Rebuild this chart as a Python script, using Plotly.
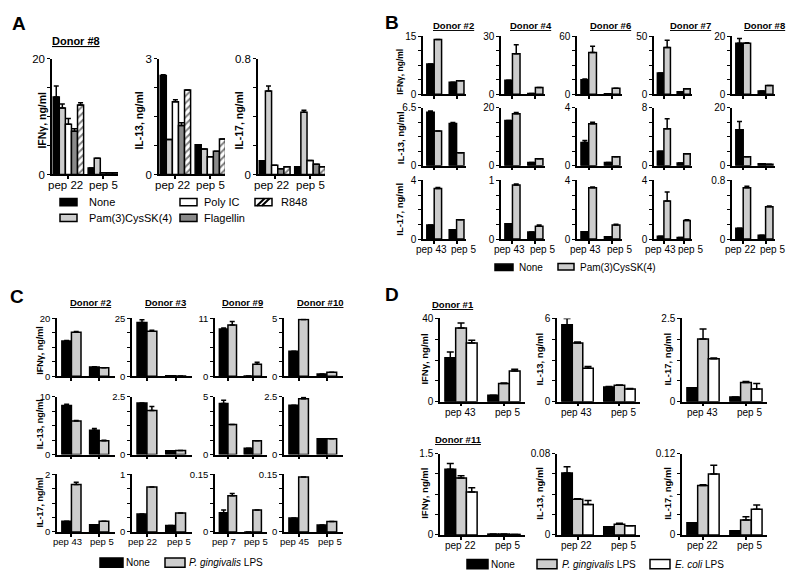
import plotly.graph_objects as go

W, H = 800, 585
FONT = "Arial, Liberation Sans, sans-serif"

# ---------------- Panel A (Donor #8) ----------------
A_CATS = ["pep 22", "pep 5"]
A_STIMS = ["None", "Pam(3)CysSK(4)", "Poly IC", "Flagellin", "R848"]
A_YMAX = [20, 3, 0.8]
A_IFNG = [[13.4, 1.1], [11.5, 2.8], [8.7, 0.3], [7.5, 0.3], [12.0, 0.3]]
A_IFNG_ERR = [[1.9, 0], [0.7, 0], [1.0, 0], [0.4, 0], [0.4, 0]]
A_IL13 = [[2.57, 0.77], [0.91, 0.66], [1.89, 0.46], [1.27, 0.60], [2.19, 0.92]]
A_IL13_ERR = [[0.02, 0], [0, 0], [0.05, 0], [0.07, 0], [0, 0]]
A_IL17 = [[0.095, 0.054], [0.578, 0.43], [0.063, 0.097], [0.04, 0.07], [0.054, 0.054]]
A_IL17_ERR = [[0, 0], [0.035, 0.015], [0, 0], [0, 0], [0, 0]]

# ---------------- Panel B ----------------
B_DONORS = ["Donor #2", "Donor #4", "Donor #6", "Donor #7", "Donor #8"]
B_PEPS = [["pep 43", "pep 5"], ["pep 43", "pep 5"], ["pep 43", "pep 5"],
          ["pep 43", "pep 5"], ["pep 22", "pep 5"]]
B_STIMS = ["None", "Pam(3)CysSK(4)"]
B_YMAX_IFNG = [15, 30, 60, 50, 20]
B_YMAX_IL13 = [6.5, 20, 4, 8, 20]
B_YMAX_IL17 = [4, 1, 4, 4, 0.8]
B_IFNG_NONE = [[7.8, 3.1], [7.2, 0.3], [15.0, 0.4], [18.2, 2.0], [17.6, 1.1]]
B_IFNG_PAM = [[14.2, 3.45], [21.0, 3.4], [43.3, 6.0], [40.4, 4.6], [17.6, 3.0]]
B_IFNG_NONE_ERR = [[0, 0], [0, 0], [0.8, 0], [0, 0], [1.7, 0]]
B_IFNG_PAM_ERR = [[0, 0], [4.6, 0], [6.5, 0], [6.3, 0], [0.2, 0]]
B_IL13_NONE = [[6.0, 4.75], [15.6, 1.1], [1.6, 0.22], [2.0, 0.36], [12.4, 0.67]]
B_IL13_PAM = [[3.9, 1.46], [18.0, 2.4], [2.9, 0.62], [5.1, 1.64], [3.1, 0.45]]
B_IL13_NONE_ERR = [[0.15, 0.1], [0, 0], [0.15, 0], [0, 0], [2.9, 0]]
B_IL13_PAM_ERR = [[0, 0], [0.4, 0], [0.1, 0], [1.4, 0], [0, 0]]
B_IL17_NONE = [[0.96, 0.64], [0.26, 0.12], [0.51, 0.16], [0.2, 0.11], [0.147, 0.053]]
B_IL17_PAM = [[3.44, 1.31], [0.92, 0.22], [3.49, 0.96], [2.6, 1.27], [0.70, 0.44]]
B_IL17_NONE_ERR = [[0, 0], [0, 0], [0, 0], [0, 0], [0, 0]]
B_IL17_PAM_ERR = [[0.08, 0], [0.02, 0.02], [0.05, 0.05], [0.6, 0.05], [0.02, 0.01]]

# ---------------- Panel C ----------------
C_DONORS = ["Donor #2", "Donor #3", "Donor #9", "Donor #10"]
C_PEPS = [["pep 43", "pep 5"], ["pep 22", "pep 5"], ["pep 7", "pep 5"], ["pep 45", "pep 5"]]
C_STIMS = ["None", "P. gingivalis LPS"]
C_YMAX_IFNG = [20, 25, 11, 5]
C_YMAX_IL13 = [10, 2.5, 5, 2.5]
C_YMAX_IL17 = [2, 1, 0.15, 0.15]
C_IFNG_NONE = [[12.2, 3.2], [23.3, 0.2], [9.0, 0.05], [2.17, 0.2]]
C_IFNG_PG = [[15.25, 2.9], [19.5, 0.1], [9.75, 2.3], [4.9, 0.34]]
C_IFNG_NONE_ERR = [[0.2, 0.1], [1.1, 0], [0.2, 0], [0, 0]]
C_IFNG_PG_ERR = [[0.2, 0], [0.4, 0], [0.65, 0.35], [0, 0]]
C_IL13_NONE = [[8.5, 4.2], [2.23, 0.17], [4.43, 0.56], [2.14, 0.69]]
C_IL13_PG = [[5.8, 2.4], [1.91, 0.18], [2.6, 1.19], [2.42, 0.69]]
C_IL13_NONE_ERR = [[0.2, 0.3], [0, 0], [0.27, 0], [0, 0]]
C_IL13_PG_ERR = [[0.1, 0.1], [0.17, 0], [0, 0], [0.06, 0]]
C_IL17_NONE = [[0.37, 0.25], [0.31, 0.114], [0.05, 0.0], [0.036, 0.018]]
C_IL17_PG = [[1.64, 0.37], [0.78, 0.33], [0.094, 0.057], [0.143, 0.027]]
C_IL17_NONE_ERR = [[0, 0], [0, 0], [0.007, 0], [0, 0]]
C_IL17_PG_ERR = [[0.08, 0], [0, 0], [0.006, 0], [0, 0]]

# ---------------- Panel D ----------------
D_DONORS = ["Donor #1", "Donor #11"]
D_PEPS = [["pep 43", "pep 5"], ["pep 22", "pep 5"]]
D_STIMS = ["None", "P. gingivalis LPS", "E. coli LPS"]
D_YMAX = [[40, 6, 2.5], [1.5, 0.08, 0.12]]
D1_IFNG = [[21.1, 3.1], [35.4, 8.7], [28.2, 14.8]]
D1_IFNG_ERR = [[2.8, 0], [2.4, 0.3], [1.3, 0.8]]
D1_IL13 = [[5.55, 1.06], [4.23, 1.18], [2.41, 0.92]]
D1_IL13_ERR = [[0.45, 0.03], [0.08, 0.03], [0.12, 0.03]]
D1_IL17 = [[0.42, 0.14], [1.88, 0.58], [1.29, 0.38]]
D1_IL17_ERR = [[0, 0], [0.3, 0.03], [0.02, 0.17]]
D11_IFNG = [[1.21, 0.015], [1.05, 0.015], [0.79, 0.01]]
D11_IFNG_ERR = [[0.11, 0], [0.04, 0], [0.08, 0]]
D11_IL13 = [[0.061, 0.008], [0.035, 0.0106], [0.030, 0.009]]
D11_IL13_ERR = [[0.006, 0], [0.0005, 0.0008], [0.004, 0]]
D11_IL17 = [[0.018, 0.006], [0.073, 0.022], [0.090, 0.038]]
D11_IL17_ERR = [[0, 0], [0.001, 0.005], [0.013, 0.006]]

CYTO_TITLES = ["IFNγ, ng/ml", "IL-13, ng/ml", "IL-17, ng/ml"]

LIGHT = "#cdcdcd"
DARK = "#8a8a8a"
S_NONE = dict(fill="black")
S_LIGHT = dict(fill=LIGHT)
S_WHITE = dict(fill="white")
S_DARK = dict(fill=DARK)
S_HATCH = dict(fill="white", hatch=True)

fig = go.Figure()
layout = {}
shapes = []
annotations = []
counter = [0]


def px(x):
    return x / W


def py(y):
    return 1 - y / H


def fmt(v):
    return "%g" % v


def add_plot(x0, x1, ytop, yzero, ymax, cats, vals, errs, styles, frac, xrange,
             tfs, showx=True, capw=2.5, lshift=(0, 0), lyshift=-4):
    counter[0] += 1
    n = counter[0]
    xa = "xaxis" if n == 1 else f"xaxis{n}"
    ya = "yaxis" if n == 1 else f"yaxis{n}"
    xr = "x" if n == 1 else f"x{n}"
    yr = "y" if n == 1 else f"y{n}"
    m = len(vals)
    w = frac / m
    for i in range(m):
        st = styles[i]
        marker = dict(color=st["fill"], line=dict(color="black", width=1.5))
        if st.get("hatch"):
            marker["pattern"] = dict(shape="/", fgcolor="black", bgcolor="white",
                                     size=5, solidity=0.4)
        fig.add_trace(go.Bar(
            x=cats, y=vals[i], width=w, offset=-frac / 2 + i * w, marker=marker,
            error_y=dict(type="data", array=errs[i], arrayminus=[0] * len(cats),
                         symmetric=False, color="black", thickness=1.5, width=capw),
            xaxis=xr, yaxis=yr, showlegend=False, hoverinfo="skip"))
    layout[xa] = dict(
        domain=[px(x0), px(x1)], anchor=yr, range=xrange, type="category",
        showline=True, linecolor="black", linewidth=1.5, ticks="outside",
        ticklen=3, tickwidth=1.5, tickcolor="black", showticklabels=False,
        showgrid=False, zeroline=False, fixedrange=True)
    layout[ya] = dict(
        domain=[py(yzero), py(ytop)], anchor=xr, range=[0, ymax],
        showline=True, linecolor="black", linewidth=1.5, ticks="outside",
        ticklen=3, tickwidth=1.2, tickcolor="black",
        tickvals=[0, ymax], ticktext=["0", fmt(ymax)],
        minor=dict(tick0=0, dtick=ymax / 4, ticks="outside", ticklen=3,
                   tickwidth=1.2, tickcolor="black", showgrid=False),
        tickfont=dict(size=tfs, color="black", family=FONT),
        showgrid=False, zeroline=False, fixedrange=True)
    if showx:
        # category labels under the x axis (slightly spread, as in the original)
        for i, c in enumerate(cats):
            annotations.append(dict(
                x=c, y=0, xref=xr, yref=yr, text=c, showarrow=False,
                xanchor="center", yanchor="top", xshift=lshift[i], yshift=lyshift,
                font=dict(size=tfs, color="black", family=FONT)))


def text(x, y, s, size, bold=False, anchor="left", angle=0):
    if bold:
        s = f"<b>{s}</b>"
    annotations.append(dict(x=px(x), y=py(y), xref="paper", yref="paper", text=s,
                            showarrow=False, xanchor=anchor, yanchor="middle",
                            textangle=angle,
                            font=dict(size=size, color="black", family=FONT)))


def ytitle(x, y, s, size):
    text(x, y, s, size, True, "center", -90)


def swatch(x0, x1, y0, y1, fill, hatch=False):
    shapes.append(dict(type="rect", xref="paper", yref="paper", x0=px(x0), x1=px(x1),
                       y0=py(y1), y1=py(y0), fillcolor=fill,
                       line=dict(color="black", width=1.5)))
    if hatch:
        h = y1 - y0
        step = 5
        xs = x0 + 2
        while xs + h <= x1 + 0.5:
            shapes.append(dict(type="line", xref="paper", yref="paper",
                               x0=px(xs), y0=py(y1), x1=px(xs + h), y1=py(y0),
                               line=dict(color="black", width=2)))
            xs += step


# ---------- Panel A ----------
A_STY = [S_NONE, S_LIGHT, S_WHITE, S_DARK, S_HATCH]
A_X0 = [52, 159, 258]
A_X1 = [118, 225, 325]
A_TX = [42, 139, 239]
for c, (vals, errs) in enumerate([(A_IFNG, A_IFNG_ERR), (A_IL13, A_IL13_ERR), (A_IL17, A_IL17_ERR)]):
    add_plot(A_X0[c], A_X1[c], 54, 172, A_YMAX[c], A_CATS, vals, errs, A_STY, 0.87,
             [-0.47, 1.42], 11.5, True, 2.5, (-3, 0), -3)
    ytitle(A_TX[c], 117, CYTO_TITLES[c], 10.5)
text(10, 18, "A", 19, True)
text(76, 36, "<u>Donor #8</u>", 11, True, "center")
swatch(60, 77, 196.5, 204, "black")
text(87, 200, A_STIMS[0], 11)
swatch(60, 77, 212.5, 220, LIGHT)
text(87, 216, A_STIMS[1], 11)
swatch(180, 197, 196.5, 204, "white")
text(202, 200, A_STIMS[2], 11)
swatch(180, 197, 212.5, 220, DARK)
text(202, 216, A_STIMS[3], 11)
swatch(255, 272, 196.5, 204, "white", hatch=True)
text(279, 200, A_STIMS[4], 11)

# ---------- Panel B ----------
B_X0 = [423, 501, 577, 654, 732]
B_X1 = [466, 545, 622, 692, 775]
B_ROWS = [(31, 90), (104, 163), (178, 238)]
B_TY = [67, 135, 208]
B_TFS = [8.5, 9.5, 9.5]
B_LBLX = [453, 531, 610, 690, 764]
B_DATA = [
    (B_IFNG_NONE, B_IFNG_PAM, B_IFNG_NONE_ERR, B_IFNG_PAM_ERR, B_YMAX_IFNG),
    (B_IL13_NONE, B_IL13_PAM, B_IL13_NONE_ERR, B_IL13_PAM_ERR, B_YMAX_IL13),
    (B_IL17_NONE, B_IL17_PAM, B_IL17_NONE_ERR, B_IL17_PAM_ERR, B_YMAX_IL17),
]
for r, (nv, pv, ne, pe, ym) in enumerate(B_DATA):
    for d in range(len(B_DONORS)):
        add_plot(B_X0[d], B_X1[d], B_ROWS[r][0], B_ROWS[r][1], ym[d], B_PEPS[d],
                 [nv[d], pv[d]], [ne[d], pe[d]], [S_NONE, S_LIGHT], 0.66,
                 [-0.5, 1.42], 10, r == 2, 2.5, (-3, 7), -3)
    ytitle(400, B_TY[r], CYTO_TITLES[r], B_TFS[r])
text(383, 17, "B", 19, True)
for d in range(len(B_DONORS)):
    text(B_LBLX[d], 20, f"<u>{B_DONORS[d]}</u>", 9.5, True, "center")
swatch(495, 513, 263.5, 270, "black")
text(517, 267, B_STIMS[0], 10)
swatch(558, 574, 263, 269.5, LIGHT)
text(578, 267, B_STIMS[1], 10)

# ---------- Panel C ----------
C_X0 = [57, 132, 215, 284]
C_X1 = [115, 192, 267, 343]
C_ROWS = [(319, 378), (399, 458), (478, 537)]
C_TY = [352, 427, 507]
C_LBLX = [90, 165, 242, 320]
C_DATA = [
    (C_IFNG_NONE, C_IFNG_PG, C_IFNG_NONE_ERR, C_IFNG_PG_ERR, C_YMAX_IFNG),
    (C_IL13_NONE, C_IL13_PG, C_IL13_NONE_ERR, C_IL13_PG_ERR, C_YMAX_IL13),
    (C_IL17_NONE, C_IL17_PG, C_IL17_NONE_ERR, C_IL17_PG_ERR, C_YMAX_IL17),
]
for r, (nv, pv, ne, pe, ym) in enumerate(C_DATA):
    for d in range(len(C_DONORS)):
        add_plot(C_X0[d], C_X1[d], C_ROWS[r][0], C_ROWS[r][1], ym[d], C_PEPS[d],
                 [nv[d], pv[d]], [ne[d], pe[d]], [S_NONE, S_LIGHT], 0.69,
                 [-0.52, 1.57], 9.5, r == 2, 2.5, (-4, 3), -2)
    ytitle(40, C_TY[r], CYTO_TITLES[r], 9)
text(8, 297, "C", 19, True)
for d in range(len(C_DONORS)):
    text(C_LBLX[d], 303, f"<u>{C_DONORS[d]}</u>", 9.5, True, "center")
swatch(100, 123, 563.5, 573, "black")
text(124, 568, C_STIMS[0], 10)
swatch(165, 185, 563.5, 573, LIGHT)
text(187, 568, "<i>P. gingivalis</i> LPS", 10)

# ---------- Panel D ----------
D_X0 = [440, 557, 682]
D_X1 = [525, 640, 767]
D_TX = [425, 540, 668]
D_ROWS = [(319, 404), (457, 540)]
D_TY = [361, 498]
D_STY = [S_NONE, S_LIGHT, S_WHITE]
D_DATA = [
    [(D1_IFNG, D1_IFNG_ERR), (D1_IL13, D1_IL13_ERR), (D1_IL17, D1_IL17_ERR)],
    [(D11_IFNG, D11_IFNG_ERR), (D11_IL13, D11_IL13_ERR), (D11_IL17, D11_IL17_ERR)],
]
for r in range(2):
    for c in range(3):
        vals, errs = D_DATA[r][c]
        add_plot(D_X0[c], D_X1[c], D_ROWS[r][0], D_ROWS[r][1], D_YMAX[r][c], D_PEPS[r],
                 vals, errs, D_STY, 0.75, [-0.49, 1.49], 10, True, 3.5, (-1, 4), -3)
        ytitle(D_TX[c], D_TY[r], CYTO_TITLES[c], 9.5)
text(383, 295, "D", 19, True)
text(453, 305, f"<u>{D_DONORS[0]}</u>", 9.5, True, "center")
text(458, 443, f"<u>{D_DONORS[1]}</u>", 9.5, True, "center")
swatch(467, 488, 565, 574.5, "black")
text(489, 570, D_STIMS[0], 10)
swatch(537, 557, 565, 574.5, LIGHT)
text(560, 570, "<i>P. gingivalis</i> LPS", 10)
swatch(650, 670, 565, 574.5, "white")
text(673, 570, "<i>E. coli</i> LPS", 10)

fig.update_layout(
    width=W, height=H, margin=dict(l=0, r=0, t=0, b=0),
    paper_bgcolor="white", plot_bgcolor="white", barmode="overlay",
    showlegend=False, shapes=shapes, annotations=annotations,
    font=dict(family=FONT, color="black"), **layout)

fig.write_html("out.html", config={"displayModeBar": False},
               post_script="document.body.style.margin='0';document.body.style.overflow='hidden';")
